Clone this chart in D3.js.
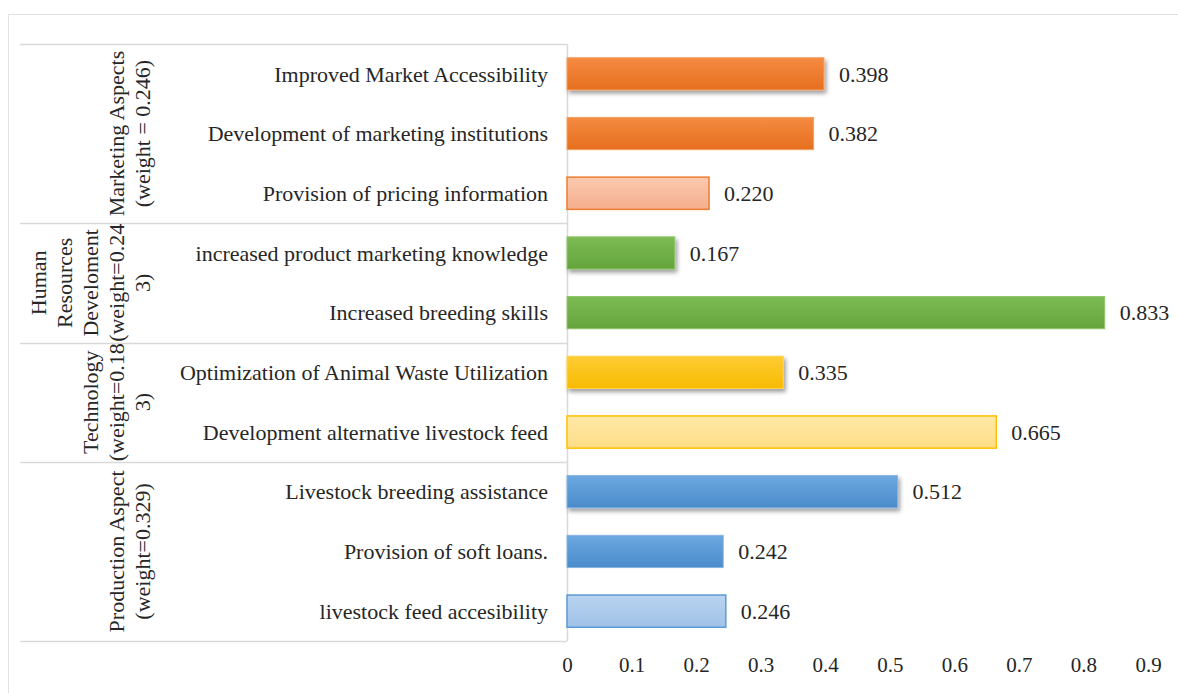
<!DOCTYPE html>
<html>
<head>
<meta charset="utf-8">
<script src="https://cdn.jsdelivr.net/npm/d3@7/dist/d3.min.js"></script>
<style>
    html, body { margin: 0; padding: 0; background: #fff; }
    svg text { font-family: "Liberation Serif", "Times New Roman", serif; fill: #262626; }
</style>
</head>
<body>
<div id="chart"></div>
<script>
// data, top row first
const categories = [
    'Improved Market Accessibility',
    'Development of marketing institutions',
    'Provision of pricing information',
    'increased product marketing knowledge',
    'Increased breeding skills',
    'Optimization of Animal Waste Utilization',
    'Development alternative livestock feed',
    'Livestock breeding assistance',
    'Provision of soft loans.',
    'livestock feed accesibility',
];
const values = [0.398, 0.382, 0.220, 0.167, 0.833, 0.335, 0.665, 0.512, 0.242, 0.246];
const valueLabels = ['0.398', '0.382', '0.220', '0.167', '0.833', '0.335', '0.665', '0.512', '0.242', '0.246'];

const groupLines = [
    ['Marketing Aspects', '(weight = 0.246)'],
    ['Human', 'Resources', 'Develoment', '(weight=0.24', '3)'],
    ['Technology', '(weight=0.18', '3)'],
    ['Production Aspect', '(weight=0.329)'],
];
const groupSizes = [3, 2, 2, 3];

const tickValues = [0, 0.1, 0.2, 0.3, 0.4, 0.5, 0.6, 0.7, 0.8, 0.9];
const tickLabels = ['0', '0.1', '0.2', '0.3', '0.4', '0.5', '0.6', '0.7', '0.8', '0.9'];

// look of each bar (which palette per group, and the effect used)
const palettes = [
    { base: '#ED7D31', top: '#F58B42', bottom: '#E66F1E', light1: '#FBC9B0', light2: '#F5AE8C', edge: '#F3A062' },
    { base: '#70AD47', top: '#7DBB55', bottom: '#65A43C', light1: '#BFE0A8', light2: '#A8D38B', edge: '#92C56E' },
    { base: '#FFC000', top: '#FFCD35', bottom: '#F7BA00', light1: '#FFE9A8', light2: '#FFDD85', edge: '#FFD350' },
    { base: '#5B9BD5', top: '#6CA8E0', bottom: '#4A8BCB', light1: '#BAD4F0', light2: '#9FC2E8', edge: '#86B4E2' },
];
const barLook = ['shadow', 'plain', 'light', 'shadow', 'plain', 'shadow', 'light', 'shadow', 'plain', 'light'];

const width = 1178;
const height = 693;
const grid = '#d9d9d9';

const svg = d3.select('#chart')
    .append('svg')
    .attr('width', width)
    .attr('height', height);

const defs = svg.append('defs');

const shadow = defs.append('filter')
    .attr('id', 'shadow')
    .attr('x', '-5%').attr('y', '-30%')
    .attr('width', '115%').attr('height', '190%');
shadow.append('feDropShadow')
    .attr('dx', 2).attr('dy', 3)
    .attr('stdDeviation', 2)
    .attr('flood-color', '#000')
    .attr('flood-opacity', 0.38);

palettes.forEach((p, i) => {
    const g1 = defs.append('linearGradient')
        .attr('id', `grad${i}`)
        .attr('x1', 0).attr('y1', 0).attr('x2', 0).attr('y2', 1);
    g1.append('stop').attr('offset', '0%').attr('stop-color', p.top);
    g1.append('stop').attr('offset', '100%').attr('stop-color', p.bottom);

    const g2 = defs.append('linearGradient')
        .attr('id', `light${i}`)
        .attr('x1', 0).attr('y1', 0).attr('x2', 0).attr('y2', 1);
    g2.append('stop').attr('offset', '0%').attr('stop-color', p.light1);
    g2.append('stop').attr('offset', '100%').attr('stop-color', p.light2);
});

// outer frame
svg.append('rect')
    .attr('x', 8.5)
    .attr('y', 14.5)
    .attr('width', width)
    .attr('height', height)
    .attr('fill', 'none')
    .attr('stroke', '#e3e3e3');

const x = d3.scaleLinear()
    .domain([0, 0.9])
    .range([567, 1148]);

const y = d3.scaleBand()
    .domain(categories)
    .range([44, 641])
    .paddingInner(0.46)
    .paddingOuter(0.23);

// which group each bar belongs to
const groupOf = [];
groupSizes.forEach((n, gi) => d3.range(n).forEach(() => groupOf.push(gi)));

// table lines at group borders
const borders = [0];
groupSizes.reduce((acc, n) => { borders.push(acc + n); return acc + n; }, 0);

svg.append('g')
    .selectAll('line')
    .data(borders)
    .enter()
    .append('line')
    .attr('x1', 20)
    .attr('x2', x(0))
    .attr('y1', d => Math.round(y.range()[0] + d * y.step()) + 0.5)
    .attr('y2', d => Math.round(y.range()[0] + d * y.step()) + 0.5)
    .attr('stroke', grid)
    .attr('stroke-width', 1.5);

svg.append('line')
    .attr('x1', x(0) + 0.5)
    .attr('x2', x(0) + 0.5)
    .attr('y1', y.range()[0])
    .attr('y2', y.range()[1])
    .attr('stroke', grid)
    .attr('stroke-width', 1.5);

// group labels, written upwards
const lineGap = 26;
const lastLineX = 142;
groupLines.forEach((lines, gi) => {
    const cy = y.range()[0] + (borders[gi] + borders[gi + 1]) / 2 * y.step();
    const g = svg.append('g');
    lines.forEach((txt, li) => {
        const lx = lastLineX - (lines.length - 1 - li) * lineGap;
        g.append('text')
            .attr('transform', `translate(${lx},${cy}) rotate(-90)`)
            .attr('text-anchor', 'middle')
            .attr('dominant-baseline', 'central')
            .attr('font-size', 22)
            .text(txt);
    });
});

// category labels
svg.append('g')
    .selectAll('text')
    .data(categories)
    .enter()
    .append('text')
    .attr('x', 548)
    .attr('y', d => y(d) + y.bandwidth() / 2)
    .attr('dy', '0.35em')
    .attr('text-anchor', 'end')
    .attr('font-size', 22)
    .text(d => d);

// bars
svg.append('g')
    .selectAll('rect')
    .data(values)
    .enter()
    .append('rect')
    .attr('x', x(0))
    .attr('y', (d, i) => y(categories[i]))
    .attr('width', d => x(d) - x(0))
    .attr('height', y.bandwidth())
    .attr('fill', (d, i) => barLook[i] === 'light' ? `url(#light${groupOf[i]})` : `url(#grad${groupOf[i]})`)
    .attr('stroke', (d, i) => barLook[i] === 'light' ? palettes[groupOf[i]].base : palettes[groupOf[i]].edge)
    .attr('stroke-width', (d, i) => barLook[i] === 'light' ? 1.5 : 1)
    .attr('filter', (d, i) => barLook[i] === 'shadow' ? 'url(#shadow)' : null);

// value labels
svg.append('g')
    .selectAll('text')
    .data(values)
    .enter()
    .append('text')
    .attr('x', d => x(d) + 15)
    .attr('y', (d, i) => y(categories[i]) + y.bandwidth() / 2)
    .attr('dy', '0.35em')
    .attr('font-size', 22)
    .text((d, i) => valueLabels[i]);

// x axis
svg.append('g')
    .attr('transform', `translate(0,${y.range()[1]})`)
    .call(d3.axisBottom(x)
        .tickValues(tickValues)
        .tickFormat((d, i) => tickLabels[i])
        .tickSize(0)
        .tickPadding(16))
    .call(g => g.select('.domain').remove())
    .call(g => g.selectAll('text')
        .attr('font-size', 21)
        .attr('font-family', '"Liberation Serif", "Times New Roman", serif')
        .attr('fill', '#262626'));
</script>
</body>
</html>
